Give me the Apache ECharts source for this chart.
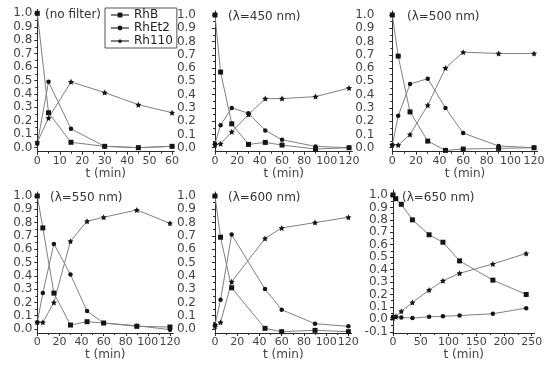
<!DOCTYPE html>
<html><head><meta charset="utf-8">
<script src="https://cdn.jsdelivr.net/npm/echarts@6/dist/echarts.min.js"></script>
<style>html,body{margin:0;padding:0;background:#fff}#c{width:550px;height:367px}</style>
</head><body><div id="c"></div>
<script>
// ---- data ----
const seriesNames = ['RhB', 'RhEt2', 'Rh110'];
const panelLabels = ['(no filter)', '(\u03bb=450 nm)', '(\u03bb=500 nm)', '(\u03bb=550 nm)', '(\u03bb=600 nm)', '(\u03bb=650 nm)'];

const t1 = [0, 5, 15, 30, 45, 60];
const rhb1 = [1.0, 0.26, 0.04, 0.01, 0.0, 0.01];
const et1 = [0.03, 0.49, 0.14, 0.01, 0.0, 0.01];
const r1 = [0.04, 0.22, 0.49, 0.41, 0.32, 0.26];

const t2 = [0, 5, 15, 30, 45, 60, 90, 120];
const rhb2 = [1.0, 0.57, 0.18, 0.025, 0.04, 0.02, -0.01, 0.0];
const et2 = [0.03, 0.17, 0.30, 0.26, 0.13, 0.06, 0.01, 0.0];
const r2 = [0.02, 0.03, 0.12, 0.25, 0.37, 0.37, 0.385, 0.45];

const t3 = [0, 5, 15, 30, 45, 60, 90, 120];
const rhb3 = [1.0, 0.69, 0.27, 0.05, -0.02, -0.01, -0.005, 0.0];
const et3 = [0.02, 0.24, 0.48, 0.52, 0.30, 0.11, 0.013, 0.0];
const r3 = [0.02, 0.02, 0.10, 0.32, 0.60, 0.72, 0.71, 0.71];

const t4 = [0, 5, 15, 30, 45, 60, 90, 120];
const rhb4 = [1.0, 0.76, 0.27, 0.03, 0.055, 0.045, 0.02, 0.015];
const et4 = [0.05, 0.27, 0.64, 0.41, 0.135, 0.045, 0.025, -0.005];
const r4 = [0.05, 0.05, 0.20, 0.66, 0.81, 0.84, 0.895, 0.795];

const t5 = [0, 5, 15, 45, 60, 90, 120];
const rhb5 = [1.0, 0.69, 0.31, 0.005, -0.02, -0.01, -0.02];
const et5 = [0.03, 0.22, 0.71, 0.30, 0.145, 0.04, 0.02];
const r5 = [0.02, 0.05, 0.355, 0.68, 0.76, 0.80, 0.84];

const t6 = [0, 5, 15, 35, 65, 90, 120, 180, 240];
const rhb6 = [1.0, 0.97, 0.925, 0.80, 0.68, 0.62, 0.47, 0.315, 0.20];
const et6 = [0.02, 0.02, 0.015, 0.01, 0.02, 0.025, 0.03, 0.045, 0.09];
const r6 = [0.01, 0.02, 0.065, 0.135, 0.235, 0.31, 0.37, 0.445, 0.53];

const xTicks60 = [0, 10, 20, 30, 40, 50, 60];
const xTicks120 = [0, 20, 40, 60, 80, 100, 120];
const xTicks250 = [0, 50, 100, 150, 200, 250];
const yTicks = [0.0, 0.1, 0.2, 0.3, 0.4, 0.5, 0.6, 0.7, 0.8, 0.9, 1.0];
const yTicks6 = [-0.1, 0.0, 0.1, 0.2, 0.3, 0.4, 0.5, 0.6, 0.7, 0.8, 0.9, 1.0];

// ---- layout / style ----
const panels = [
  {t: t1, v: [rhb1, et1, r1], xt: xTicks60, xminorStep: 5, xmax: 61, yt: yTicks, ymin: -0.03, ymax: 1.03,
   g: {left: 37.3, top: 9.3, width: 137, height: 142.4}, ym: 5, lab: [45, 15]},
  {t: t2, v: [rhb2, et2, r2], xt: xTicks120, xminorStep: 10, xmax: 123, yt: yTicks, ymin: -0.03, ymax: 1.03,
   g: {left: 215, top: 11, width: 137.4, height: 140.7}, ym: 19, lab: [228, 16.5]},
  {t: t3, v: [rhb3, et3, r3], xt: xTicks120, xminorStep: 10, xmax: 123, yt: yTicks, ymin: -0.03, ymax: 1.03,
   g: {left: 392.3, top: 11, width: 145.3, height: 140.7}, ym: 18, lab: [407, 16.5]},
  {t: t4, v: [rhb4, et4, r4], xt: xTicks120, xminorStep: 10, xmax: 123, yt: yTicks, ymin: -0.03, ymax: 1.03,
   g: {left: 37.3, top: 192, width: 136, height: 141}, ym: 5, lab: [50, 198]},
  {t: t5, v: [rhb5, et5, r5], xt: xTicks120, xminorStep: 10, xmax: 123, yt: yTicks, ymin: -0.03, ymax: 1.03,
   g: {left: 215, top: 192, width: 136.7, height: 141}, ym: 19, lab: [228, 198]},
  {t: t6, v: [rhb6, et6, r6], xt: xTicks250, xminorStep: 25, xmax: 255, yt: yTicks6, ymin: -0.11, ymax: 1.04,
   g: {left: 393, top: 190, width: 141.5, height: 143}, ym: 5, lab: [402, 198]}
];

const STAR = 'path://M0,-10L2.9,-4L9.5,-3.1L4.8,1.5L5.9,8.1L0,5L-5.9,8.1L-4.8,1.5L-9.5,-3.1L-2.9,-4Z';
const symbols = ['rect', 'circle', STAR];
const symbolSizes = [5, 4.5, 6];
const axisColor = '#2a2a2a';
const labelColor = '#444';
const tickFont = 'DejaVu Sans';

function range(a, b, s) { const r = []; for (let x = a; x <= b + 1e-9; x += s) r.push(Math.round(x * 1000) / 1000); return r; }

const grids = [], xAxes = [], yAxes = [], series = [], graphics = [];
panels.forEach((p, i) => {
  grids.push(Object.assign({outerBoundsMode: 'none', containLabel: false}, p.g));
  const xMinor = range(0, p.xmax, p.xminorStep).filter(v => p.xt.indexOf(v) < 0);
  const yMinor = range(-0.1, 1.0, 0.05).filter(v => v >= p.ymin && v <= p.ymax && !p.yt.some(t => Math.abs(t - v) < 1e-6));
  xAxes.push({
    gridIndex: i, type: 'value', min: 0, max: p.xmax, position: 'bottom',
    axisLine: {onZero: false, lineStyle: {color: axisColor, width: 1}},
    axisTick: {customValues: p.xt, length: 3, lineStyle: {color: axisColor}},
    axisLabel: {customValues: p.xt, interval: 0, fontSize: 11, fontFamily: tickFont, color: labelColor, margin: 4,
      hideOverlap: false, showMinLabel: true, showMaxLabel: true},
    splitLine: {show: false},
    name: 't (min)', nameLocation: 'middle', nameGap: 16,
    nameTextStyle: {fontSize: 12, fontFamily: tickFont, color: labelColor}
  });
  xAxes.push({
    gridIndex: i, type: 'value', min: 0, max: p.xmax, position: 'bottom',
    axisLine: {show: false, onZero: false},
    axisTick: {customValues: xMinor, length: 2, lineStyle: {color: axisColor}},
    axisLabel: {show: false}, splitLine: {show: false}
  });
  yAxes.push({
    gridIndex: i, type: 'value', min: p.ymin, max: p.ymax, position: 'left',
    axisLine: {show: true, onZero: false, lineStyle: {color: axisColor, width: 1}},
    axisTick: {show: true, customValues: p.yt, length: 3, lineStyle: {color: axisColor}},
    axisLabel: {customValues: p.yt, interval: 0, fontSize: 12, fontFamily: tickFont, color: labelColor, margin: p.ym,
      hideOverlap: false, showMinLabel: true, showMaxLabel: true,
      formatter: v => v.toFixed(1)},
    splitLine: {show: false}
  });
  yAxes.push({
    gridIndex: i, type: 'value', min: p.ymin, max: p.ymax, position: 'left',
    axisLine: {show: false, onZero: false},
    axisTick: {show: true, customValues: yMinor, length: 2, lineStyle: {color: axisColor}},
    axisLabel: {show: false}, splitLine: {show: false}
  });
  seriesNames.forEach((name, k) => {
    series.push({
      name: name, type: 'line', xAxisIndex: 2 * i, yAxisIndex: 2 * i,
      data: p.t.map((t, j) => [t, p.v[k][j]]),
      symbol: symbols[k], symbolSize: symbolSizes[k], showAllSymbol: true,
      lineStyle: {color: '#808080', width: 1},
      itemStyle: {color: '#151515'},
      animation: false, silent: true
    });
  });
  graphics.push({
    type: 'text', x: p.lab[0], y: p.lab[1],
    style: {text: panelLabels[i], fill: '#333', font: '12px "DejaVu Sans"', verticalAlign: 'middle', align: 'left'}
  });
});

const chart = echarts.init(document.getElementById('c'), null, {renderer: 'canvas'});
chart.setOption({
  backgroundColor: '#fff',
  animation: false,
  grid: grids, xAxis: xAxes, yAxis: yAxes, series: series,
  legend: {
    data: seriesNames, orient: 'vertical', left: 105, top: 8,
    itemWidth: 18, itemHeight: 6, itemGap: 1,
    padding: [1, 4, 1, 5], borderColor: '#555', borderWidth: 1, backgroundColor: '#fff',
    textStyle: {fontSize: 12, fontFamily: tickFont, color: '#222', lineHeight: 11.5}
  },
  graphic: graphics
});
</script></body></html>
